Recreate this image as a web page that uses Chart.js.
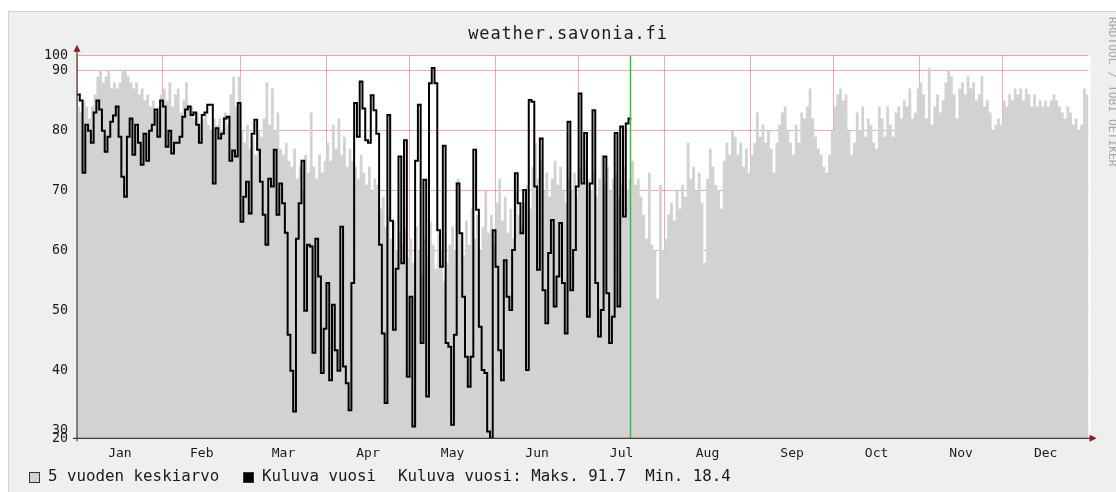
<!DOCTYPE html>
<html>
<head>
<meta charset="utf-8">
<title>weather.savonia.fi</title>
<script src="https://cdn.jsdelivr.net/npm/chart.js@4.4.1/dist/chart.umd.min.js"></script>
<style>
  html, body { margin: 0; padding: 0; background: #fff; }
  #wrap { position: relative; width: 1116px; height: 492px; overflow: hidden; font-family: 'DejaVu Sans Mono', monospace; }
  #frame { position: absolute; left: 8px; top: 11px; right: 0; bottom: 0; background: #efefef; border-left: 1px solid #d0d0d0; border-top: 1px solid #d0d0d0; }
  #chart { position: absolute; left: 0; top: 0; }
  #title { position: absolute; left: 368px; width: 400px; top: 23px; text-align: center; font-size: 17px; line-height: 20px; letter-spacing: 0.85px; color: #1a1a1a; white-space: pre; }
  .lg { position: absolute; top: 468px; font-size: 15.8px; line-height: 16px; color: #1a1a1a; white-space: pre; }
  .sw { position: absolute; top: 472px; width: 9px; height: 9px; border: 1px solid #333; }
  #credit { position: absolute; left: 1106px; top: 17px; writing-mode: vertical-rl; font-size: 11.3px; line-height: 12px; color: #a8a8a8; white-space: pre; }
</style>
</head>
<body>
<div id="wrap">
  <div id="frame"></div>
  <canvas id="chart" width="1116" height="492"></canvas>
  <div id="title">weather.savonia.fi</div>
  <div class="sw" id="swAvg" style="left:29px"></div>
  <div class="lg" style="left:48px">5 vuoden keskiarvo</div>
  <div class="sw" id="swCur" style="left:243px"></div>
  <div class="lg" style="left:262px">Kuluva vuosi</div>
  <div class="lg" style="left:398px">Kuluva vuosi: Maks. 91.7  Min. 18.4</div>
  <div id="credit">RRDTOOL / TOBI OETIKER</div>
</div>
<script>
// x axis is day of year (0 = Jan 1)
const monthStarts = [0, 31, 59, 90, 120, 151, 181, 212, 243, 273, 304, 334];
const monthNames = ['Jan', 'Feb', 'Mar', 'Apr', 'May', 'Jun', 'Jul', 'Aug', 'Sep', 'Oct', 'Nov', 'Dec'];
const yearDays = 365;
const today = 199.6;

// the y axis of the original is squeezed below 30 and above 90
const yTicks = [20, 30, 40, 50, 60, 70, 80, 90, 100];
const yBreaks = [20, 30, 90, 100];
const yBreakPos = [0, 0.02, 0.961, 1];

// 5 vuoden keskiarvo, one value per day
const avgValues = [
  84, 83, 85, 84, 82, 84, 86, 89, 90, 88,
  89, 90, 87, 88, 87, 88, 90, 91, 89, 88,
  87, 88, 86, 87, 85, 86, 84, 85, 83, 84,
  86, 87, 85, 88, 84, 86, 87, 83, 85, 88,
  84, 84, 82, 83, 81, 82, 83, 81, 80, 82,
  81, 82, 80, 83, 81, 86, 89, 84, 89, 80,
  78, 81, 77, 79, 76, 80, 79, 82, 88, 81,
  87, 80, 83, 77, 76, 78, 75, 74, 77, 72,
  74, 70, 76, 73, 83, 74, 72, 76, 73, 75,
  78, 75, 81, 77, 82, 76, 79, 74, 77, 75,
  74, 72, 76, 73, 71, 74, 70, 72, 71, 67,
  69, 64, 66, 62, 65, 60, 63, 61, 64, 59,
  62, 58, 64, 60, 56, 62, 59, 65, 61, 57,
  63, 60, 55, 58, 61, 64, 60, 72, 63, 59,
  65, 61, 67, 62, 66, 60, 64, 70, 63, 66,
  61, 68, 72, 65, 69, 63, 67, 62, 70, 66,
  64, 68, 71, 67, 74, 78, 72, 75, 70, 73,
  69, 72, 75, 71, 74, 70, 68, 72, 70, 73,
  69, 74, 71, 75, 72, 70, 73, 69, 72, 76,
  71, 74, 70, 72, 73, 69, 71, 74, 70, 72,
  75, 71, 72, 69, 66, 62, 73, 61, 60, 52,
  71, 60, 62, 66, 68, 65, 70, 67, 71, 69,
  78, 72, 74, 70, 73, 68, 58, 72, 77, 74,
  71, 70, 67, 75, 78, 76, 80, 79, 76, 78,
  74, 77, 73, 76, 78, 83, 79, 81, 78, 80,
  77, 73, 78, 81, 83, 84, 80, 78, 76, 81,
  78, 83, 82, 84, 87, 82, 79, 77, 76, 74,
  73, 76, 80, 84, 86, 87, 85, 86, 80, 76,
  78, 83, 80, 84, 79, 82, 81, 78, 77, 84,
  82, 79, 84, 81, 79, 83, 84, 82, 85, 84,
  87, 82, 83, 87, 88, 86, 82, 92, 81, 84,
  86, 83, 85, 88, 90, 89, 86, 82, 87, 88,
  86, 89, 87, 88, 85, 86, 89, 84, 85, 83,
  80, 81, 82, 81, 85, 84, 86, 85, 87, 86,
  87, 85, 87, 86, 84, 86, 84, 85, 84, 85,
  84, 85, 86, 85, 84, 83, 82, 84, 83, 81,
  82, 80, 81, 87, 86
];

// Kuluva vuosi, one value per day up to today
const currentValues = [
  86, 85, 73, 81, 80, 78, 83, 85, 83.5, 80,
  76.5, 79, 81.5, 82.5, 84, 79, 72.3, 69, 79, 82,
  76, 81, 78, 74.3, 79.5, 75, 80, 81, 83.5, 79,
  85, 84, 77.3, 80, 76.2, 78, 78, 79, 82.3, 83.5,
  84, 82.6, 83, 81, 78, 82.6, 83, 84.3, 84.3, 71.2,
  80.4, 78.7, 79.5, 82, 82.3, 75, 76.7, 75.7, 84.6, 64.8,
  69, 71.5, 66.2, 79.5, 81.8, 76.8, 71.5, 66, 61, 72,
  70.7, 76.8, 66, 71.2, 67.9, 63, 46, 40, 33.2, 62,
  67.9, 75, 50, 61, 60.7, 43, 62, 55.7, 39.6, 47,
  54.6, 38.4, 51, 43.4, 40, 64, 40.7, 37.9, 33.4, 54.6,
  84.6, 79, 88.2, 83.7, 78.4, 78, 85.9, 83.4, 79.5, 61,
  46.2, 34.6, 82.6, 65, 46.8, 57, 75.7, 57.9, 78.4, 39,
  52.3, 30.7, 75, 84.3, 44.6, 71.8, 35.7, 87.9, 91.7, 87.9,
  63.4, 57.3, 77.5, 44.6, 44, 31, 46, 71.2, 62.9, 52.3,
  42.3, 37.3, 42.3, 76.8, 66.8, 47.3, 40.1, 39.6, 29, 18.4,
  63.4, 57.3, 43.4, 38.4, 58.4, 52.3, 50.1, 60.1, 72.9, 67.9,
  62.9, 70.1, 40.1, 85.1, 84.8, 70.7, 56.8, 78.7, 53.4, 47.9,
  59.6, 65.1, 50.7, 55.7, 64.6, 54.6, 46.2, 81.5, 53.4, 60.1,
  70.7, 86.2, 71.2, 79.6, 49, 71.2, 83.4, 54.6, 45.7, 50.1,
  75.7, 52.9, 44.6, 49, 79.6, 50.7, 80.7, 65.7, 81.2, 82
];

const avgColor = '#d2d2d2';
const currentColor = '#000000';
const gridColor = 'rgba(220, 70, 70, 0.45)';
const mono = 'DejaVu Sans Mono';

document.getElementById('swAvg').style.background = avgColor;
document.getElementById('swCur').style.background = currentColor;

function rrdFraction(v) {
  if (v <= yBreaks[0]) return 0;
  for (let i = 1; i < yBreaks.length; i++) {
    if (v <= yBreaks[i]) {
      const t = (v - yBreaks[i - 1]) / (yBreaks[i] - yBreaks[i - 1]);
      return yBreakPos[i - 1] + t * (yBreakPos[i] - yBreakPos[i - 1]);
    }
  }
  return 1;
}

class RrdScale extends Chart.LinearScale {
  getPixelForValue(value) {
    if (value === null || isNaN(value)) return NaN;
    return this.getPixelForDecimal(rrdFraction(value));
  }
  getValueForPixel(pixel) {
    const d = this.getDecimalForPixel(pixel);
    for (let i = 1; i < yBreakPos.length; i++) {
      if (d <= yBreakPos[i]) {
        const t = (d - yBreakPos[i - 1]) / (yBreakPos[i] - yBreakPos[i - 1]);
        return yBreaks[i - 1] + t * (yBreaks[i] - yBreaks[i - 1]);
      }
    }
    return yBreaks[yBreaks.length - 1];
  }
}
RrdScale.id = 'rrd';
RrdScale.defaults = Chart.LinearScale.defaults;
Chart.register(RrdScale);

// each day holds its value until the next day starts
function stepPoints(values) {
  const pts = values.map((v, i) => ({ x: i, y: v }));
  pts.push({ x: values.length, y: values[values.length - 1] });
  return pts;
}

// month names sit in the middle of each month
const monthMids = monthStarts.map((s, i) => s + ((monthStarts[i + 1] || yearDays) - s) / 2);

const rrdFrame = {
  id: 'rrdFrame',
  beforeDraw(chart) {
    const { ctx, chartArea: a } = chart;
    ctx.save();
    ctx.fillStyle = '#ffffff';
    ctx.fillRect(a.left, a.top, a.right - a.left + 2, a.bottom - a.top);
    ctx.restore();
  },
  afterDraw(chart) {
    const { ctx, chartArea: a, scales } = chart;
    ctx.save();
    // today
    const tx = Math.round(scales.x.getPixelForValue(today)) + 0.5;
    ctx.strokeStyle = '#3cbf3c';
    ctx.lineWidth = 1.5;
    ctx.beginPath();
    ctx.moveTo(tx, a.top);
    ctx.lineTo(tx, a.bottom);
    ctx.stroke();
    // axes with arrows
    ctx.strokeStyle = '#4d3838';
    ctx.lineWidth = 1.2;
    ctx.beginPath();
    ctx.moveTo(a.left - 4, a.bottom);
    ctx.lineTo(a.right + 3, a.bottom);
    ctx.moveTo(a.left, a.bottom + 3);
    ctx.lineTo(a.left, a.top - 5);
    ctx.stroke();
    ctx.fillStyle = '#8e1b1b';
    ctx.beginPath();
    ctx.moveTo(a.left, a.top - 11);
    ctx.lineTo(a.left - 3.5, a.top - 4);
    ctx.lineTo(a.left + 3.5, a.top - 4);
    ctx.closePath();
    ctx.fill();
    ctx.beginPath();
    ctx.moveTo(a.right + 8, a.bottom);
    ctx.lineTo(a.right + 1, a.bottom - 3.5);
    ctx.lineTo(a.right + 1, a.bottom + 3.5);
    ctx.closePath();
    ctx.fill();
    ctx.restore();
  }
};

Chart.defaults.font.family = mono;

new Chart(document.getElementById('chart'), {
  type: 'line',
  data: {
    datasets: [
      {
        label: 'Kuluva vuosi',
        data: stepPoints(currentValues),
        borderColor: currentColor,
        borderWidth: 2,
        stepped: true,
        pointRadius: 0,
        fill: false,
        order: 0
      },
      {
        label: '5 vuoden keskiarvo',
        data: stepPoints(avgValues),
        borderWidth: 0,
        borderColor: avgColor,
        backgroundColor: avgColor,
        stepped: true,
        pointRadius: 0,
        fill: 'start',
        order: 1
      }
    ]
  },
  options: {
    responsive: false,
    animation: false,
    events: [],
    layout: { padding: { left: 0, right: 27.4, top: 55.7, bottom: 0 } },
    plugins: {
      legend: { display: false },
      tooltip: { enabled: false },
      title: { display: false }
    },
    scales: {
      x: {
        type: 'linear',
        min: 0,
        max: yearDays,
        z: 1,
        border: { display: false },
        grid: {
          drawTicks: false,
          lineWidth: 1,
          color: (c) => (c.tick && monthStarts.includes(c.tick.value) ? gridColor : 'rgba(0,0,0,0)')
        },
        ticks: {
          autoSkip: false,
          maxRotation: 0,
          padding: 8,
          color: '#1a1a1a',
          font: { family: mono, size: 13 },
          callback: (v) => {
            const i = monthMids.indexOf(v);
            return i >= 0 ? monthNames[i] : '';
          }
        },
        afterBuildTicks: (s) => {
          s.ticks = monthStarts.concat(monthMids).sort((a, b) => a - b).map((v) => ({ value: v }));
        },
        afterFit: (s) => { s.height = 53.7; }
      },
      y: {
        type: 'rrd',
        min: 20,
        max: 100,
        z: 1,
        border: { display: false },
        grid: { drawTicks: false, lineWidth: 1, color: gridColor },
        ticks: {
          autoSkip: false,
          padding: 9,
          color: '#1a1a1a',
          font: { family: mono, size: 13.3 },
          callback: (v) => String(v)
        },
        afterBuildTicks: (s) => {
          s.ticks = yTicks.map((v) => ({ value: v }));
        },
        afterFit: (s) => { s.width = 77; }
      }
    }
  },
  plugins: [rrdFrame]
});
</script>
</body>
</html>
